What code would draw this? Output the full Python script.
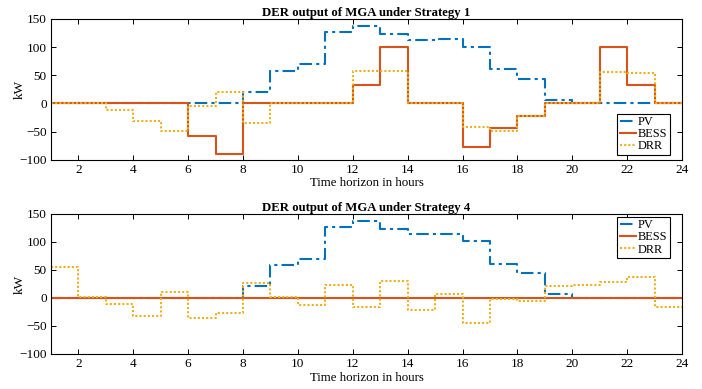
import numpy as np, matplotlib.pyplot as plt

plt.rcParams['font.family'] = ['Liberation Serif', 'DejaVu Serif']

hours = np.arange(1, 25)

# Strategy 1 (value held from hour h to h+1)
pv_1 = [0, 0, 0, 0, 0, 0, 0, 20, 58, 70, 126, 137, 123, 113, 115, 101, 61, 44, 7, 0, 0, 0, 0, 0]
bess_1 = [0, 0, 0, 0, 0, -57, -90, 0, 0, 0, 0, 33, 100, 0, 0, -78, -44, -23, 0, 0, 100, 33, 0, 0]
drr_1 = [0, 0, -12, -31, -49, -5, 20, -35, 0, 0, 0, 58, 58, 0, 0, -41, -48, -23, 0, 0, 56, 54, 0, 0]

# Strategy 4
pv_4 = [0, 0, 0, 0, 0, 0, 0, 21, 59, 70, 126, 137, 123, 114, 115, 101, 61, 45, 7, 0, 0, 0, 0, 0]
bess_4 = [0] * 24
drr_4 = [55, 1, -10, -32, 11, -35, -26, 26, 2, -12, 23, -17, 31, -21, 7, -44, -2, -5, 21, 23, 29, 37, -17, -17]

titles = ['DER output of MGA under Strategy 1', 'DER output of MGA under Strategy 4']
series = [(pv_1, bess_1, drr_1), (pv_4, bess_4, drr_4)]
legend_loc = ['lower right', 'upper right']
legend_anchor = [(0.981, 0.035), (0.981, 0.98)]

c_pv, c_bess, c_drr = '#0072BD', '#D95319', '#EDB120'

fig = plt.figure(figsize=(7.02, 3.89), dpi=100)
positions = [[0.0726, 0.589, 0.899, 0.3625], [0.0726, 0.090, 0.899, 0.360]]

for k in range(2):
    ax = fig.add_axes(positions[k])
    pv, bess, drr = series[k]
    ax.step(hours, pv, where='post', color=c_pv, lw=1.5, ls=(0, (6, 2, 1.5, 2)), label='PV')
    ax.step(hours, bess, where='post', color=c_bess, lw=1.5, ls='-', label='BESS')
    ax.step(hours, drr, where='post', color=c_drr, lw=1.5, ls=(0, (1, 1)), label='DRR')

    ax.set_xlim(1, 24)
    ax.set_ylim(-100, 150)
    ax.set_xticks(np.arange(2, 25, 2))
    ax.set_yticks(np.arange(-100, 151, 50))
    ax.tick_params(direction='in', top=True, right=True, labelsize=9.5, length=3.5, width=0.7, pad=3)
    for s in ax.spines.values():
        s.set_linewidth(0.8)
    ax.set_title(titles[k], fontsize=9.2, fontweight='bold', pad=2)
    ax.set_xlabel('Time horizon in hours', fontsize=9.3, labelpad=1)
    ax.set_ylabel('kW', fontsize=9.5)
    ax.yaxis.set_label_coords(-0.040, 0.5)
    leg = ax.legend(loc=legend_loc[k], bbox_to_anchor=legend_anchor[k], fontsize=8.8,
                    handlelength=1.3, handletextpad=0.2, borderpad=0.2, labelspacing=0.02,
                    fancybox=False, framealpha=1, borderaxespad=0)
    leg.get_frame().set_edgecolor('black')
    leg.get_frame().set_linewidth(0.8)

plt.savefig('out.png', dpi=100)
